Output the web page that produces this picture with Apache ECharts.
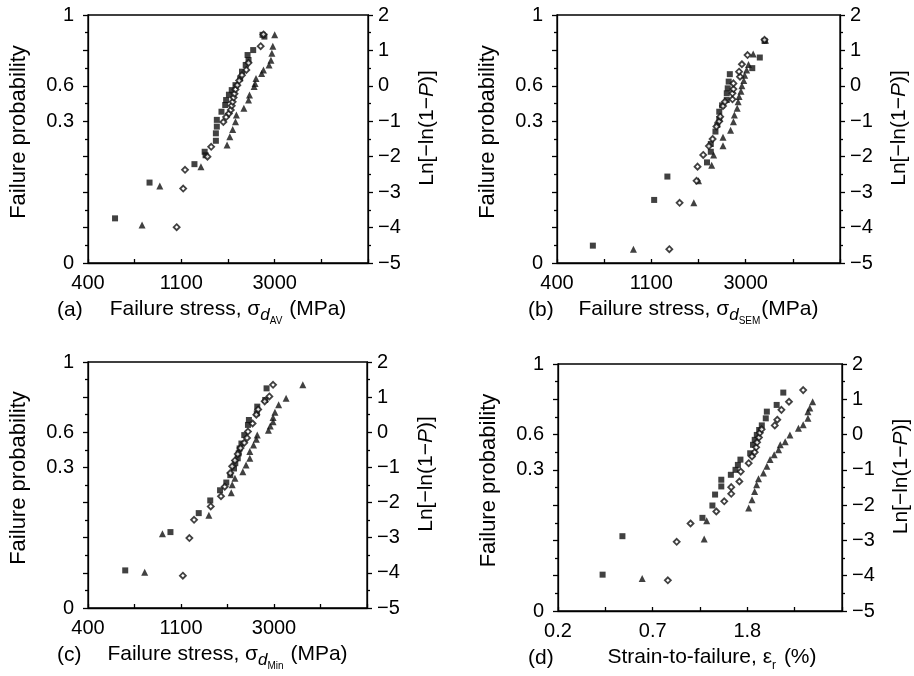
<!DOCTYPE html>
<html lang="en">
<head>
    <meta charset="utf-8">
    <title>Weibull plots</title>
    <script type="text/javascript" src="https://cdn.jsdelivr.net/npm/echarts@6/dist/echarts.min.js"></script>
    <style>
        html, body { margin: 0; padding: 0; background: #fff; }
        #main { width: 914px; height: 676px; }
    </style>
</head>
<body>
<div id="main"></div>
<script>
    // x: failure stress (MPa) or strain (%), y: Ln[-ln(1-P)]
    var aSquare = [[539,-3.74],[780,-2.73],[1262,-2.21],[1408,-1.86],[1422,-1.96],[1588,-1.55],[1588,-1.34],[1604,-1.15],[1604,-0.96],[1686,-0.73],[1755,-0.54],[1772,-0.40],[1826,-0.25],[1882,-0.12],[1959,0.02],[2060,0.21],[2100,0.40],[2186,0.59],[2253,0.73],[2230,0.87],[2368,1.01],[2618,1.44],[2670,1.39]];
    var aDiamond = [[1043,-3.99],[1119,-2.90],[1141,-2.37],[1451,-2.00],[1510,-1.72],[1720,-1.02],[1772,-0.88],[1826,-0.78],[1863,-0.68],[1882,-0.56],[1901,-0.45],[1920,-0.33],[1939,-0.22],[1959,-0.10],[1998,0.02],[2038,0.15],[2100,0.30],[2200,0.45],[2253,0.65],[2566,1.12],[2644,1.45]];
    var aTriangle = [[720,-3.93],[871,-2.83],[1353,-2.28],[1790,-1.67],[1844,-1.44],[1901,-1.23],[1959,-1.01],[1978,-0.82],[2143,-0.63],[2253,-0.40],[2276,-0.26],[2392,-0.02],[2416,0.07],[2440,0.21],[2592,0.35],[2644,0.45],[2807,0.59],[2864,0.72],[2893,0.92],[2922,1.12],[2981,1.44]];

    var bSquare = [[590,-4.51],[1130,-3.22],[1300,-2.56],[1978,-2.16],[2060,-1.86],[2060,-1.64],[2164,-1.29],[2208,-1.10],[2253,-0.94],[2253,-0.73],[2322,-0.55],[2440,-0.40],[2440,-0.21],[2465,-0.07],[2490,0.12],[2520,0.33],[3197,0.50],[3463,0.80],[3641,1.27]];
    var bDiamond = [[1327,-4.61],[1480,-3.30],[1772,-2.68],[1790,-2.28],[1901,-1.95],[2019,-1.70],[2100,-1.50],[2186,-1.15],[2253,-1.00],[2276,-0.87],[2345,-0.57],[2392,-0.45],[2592,-0.38],[2592,-0.21],[2618,-0.09],[2618,0.07],[2807,0.26],[2779,0.40],[2864,0.61],[3041,0.87],[3641,1.30]];
    var bTriangle = [[907,-4.61],[1720,-3.30],[1808,-2.68],[2080,-2.24],[2122,-1.95],[2345,-1.69],[2345,-1.45],[2540,-1.25],[2618,-1.01],[2644,-0.82],[2724,-0.63],[2752,-0.45],[2779,-0.30],[2836,-0.15],[2864,0.00],[2922,0.15],[2951,0.30],[3011,0.45],[3072,0.60],[3229,0.90],[3678,1.29]];

    var cSquare = [[602,-3.93],[979,-2.84],[1327,-2.30],[1502,-1.94],[1669,-1.65],[1785,-1.43],[1863,-1.22],[1939,-1.03],[1966,-0.88],[2019,-0.74],[2039,-0.60],[2060,-0.46],[2100,-0.32],[2165,-0.08],[2253,0.21],[2276,0.35],[2478,0.54],[2490,0.73],[2712,0.92],[2752,1.25]];
    var cDiamond = [[1119,-4.08],[1200,-3.01],[1262,-2.49],[1510,-2.11],[1686,-1.82],[1755,-1.55],[1863,-1.16],[1901,-0.97],[1959,-0.80],[2019,-0.62],[2080,-0.45],[2165,-0.30],[2230,-0.16],[2253,0.02],[2368,0.25],[2465,0.50],[2515,0.65],[2697,0.88],[2836,1.02],[2951,1.35]];
    var cTriangle = [[742,-3.98],[898,-2.89],[1480,-2.36],[1882,-1.72],[1901,-1.49],[1959,-1.31],[2132,-1.12],[2208,-0.93],[2298,-0.74],[2298,-0.55],[2392,-0.36],[2465,-0.20],[2490,-0.08],[2807,0.06],[2864,0.18],[2951,0.30],[2951,0.42],[3011,0.57],[3134,0.78],[3395,0.97],[4064,1.35]];

    var dSquare = [[0.395,-3.97],[0.487,-2.88],[1.134,-2.36],[1.26,-2.01],[1.296,-1.70],[1.384,-1.47],[1.384,-1.28],[1.531,-1.14],[1.608,-1.00],[1.649,-0.86],[1.694,-0.71],[1.878,-0.53],[1.935,-0.29],[1.97,-0.15],[2.014,-0.01],[2.065,0.13],[2.123,0.26],[2.214,0.46],[2.239,0.65],[2.484,0.84],[2.664,1.19]];
    var dDiamond = [[0.787,-4.13],[0.864,-3.04],[1.0,-2.52],[1.313,-2.18],[1.428,-1.89],[1.537,-1.68],[1.537,-1.49],[1.675,-1.33],[1.70,-1.05],[1.848,-0.81],[1.914,-0.62],[1.97,-0.50],[2.0,-0.36],[2.02,-0.22],[2.06,-0.08],[2.08,0.05],[2.12,0.15],[2.435,0.26],[2.50,0.42],[2.612,0.70],[2.829,0.93],[3.287,1.26]];
    var dTriangle = [[0.60,-4.08],[1.155,-2.96],[1.186,-2.44],[1.848,-2.08],[1.914,-1.85],[1.968,-1.61],[2.01,-1.42],[2.05,-1.25],[2.16,-1.09],[2.24,-0.90],[2.316,-0.71],[2.42,-0.57],[2.535,-0.43],[2.58,-0.29],[2.718,-0.20],[2.858,-0.01],[3.127,0.18],[3.287,0.28],[3.456,0.46],[3.456,0.65],[3.525,0.75],[3.633,0.93]];

    // tick labels (x axes are in ln units)
    var stressTickAt = [6, 7, 8];
    var stressTickText = ['400', '1100', '3000'];
    var strainTickAt = [-1.4, -0.4, 0.6];
    var strainTickText = ['0.2', '0.7', '1.8'];
    var probTickAt = [2, 0, -1, -5];
    var probTickText = ['1', '0.6', '0.3', '0'];

    var font = '"Liberation Sans", Arial, sans-serif';
    var black = '#000';

    var panels = [
        {tag: '(a)', tagX: 57, box: {left: 88, top: 15, width: 280, height: 248}, strain: false,
            xName: '{t|Failure stress, σ}{d|d}{s|AV}{t| (MPa)}', pad: 0, pts: [aSquare, aTriangle, aDiamond]},
        {tag: '(b)', tagX: 528, box: {left: 557, top: 15, width: 283, height: 248}, strain: false,
            xName: '{t|Failure stress, σ}{d|d}{s|SEM}{t|(MPa)}', pad: 0, pts: [bSquare, bTriangle, bDiamond]},
        {tag: '(c)', tagX: 57, box: {left: 88, top: 362, width: 279, height: 246}, strain: false,
            xName: '{t|Failure stress, σ}{d|d}{s|Min}{t| (MPa)}', pad: 0, pts: [cSquare, cTriangle, cDiamond]},
        {tag: '(d)', tagX: 528, box: {left: 558, top: 364, width: 284, height: 247}, strain: true,
            xName: '{t|Strain-to-failure, ε}{r|r}{t| (%)}', pad: 24, pts: [dSquare, dTriangle, dDiamond]}
    ];

    function pick(at, text) {
        return function (v) {
            for (var k = 0; k < at.length; k++) {
                if (Math.abs(at[k] - v) < 1e-6) return text[k];
            }
            return '';
        };
    }

    var line = {color: black, width: 1.3};
    var grids = [], xAxes = [], yAxes = [], series = [], graphic = [];

    panels.forEach(function (p, i) {
        grids.push({left: p.box.left, top: p.box.top, width: p.box.width, height: p.box.height,
            show: true, borderColor: black, borderWidth: 1.3, backgroundColor: 'transparent'});

        xAxes.push({
            gridIndex: i, type: 'value', position: 'bottom',
            min: p.strain ? -1.4 : 6, max: p.strain ? 1.6 : 9, interval: 0.5,
            axisLine: {onZero: false, lineStyle: line},
            axisTick: {inside: true, length: 4, lineStyle: line},
            splitLine: {show: false},
            axisLabel: {margin: 10, fontSize: 20, fontFamily: font, color: black,
                showMinLabel: true, showMaxLabel: true,
                formatter: p.strain ? pick(strainTickAt, strainTickText) : pick(stressTickAt, stressTickText)},
            name: p.xName, nameLocation: 'middle', nameGap: 36,
            nameTextStyle: {
                padding: [0, 0, 0, p.pad],
                rich: {
                    t: {fontSize: 21, fontFamily: font, color: black, lineHeight: 23, verticalAlign: 'top'},
                    d: {fontSize: 17, fontFamily: font, fontStyle: 'italic', color: black, lineHeight: 17, padding: [8, 0, 0, 0], verticalAlign: 'top'},
                    s: {fontSize: 10, fontFamily: font, color: black, lineHeight: 10, padding: [17, 1, 0, 0], verticalAlign: 'top'},
                    r: {fontSize: 12, fontFamily: font, color: black, lineHeight: 12, padding: [13, 2, 0, 0], verticalAlign: 'top'}
                }
            }
        });

        var yBase = {
            gridIndex: i, type: 'value', min: -5, max: 2, interval: 1,
            axisLine: {show: true, onZero: false, lineStyle: line},
            axisTick: {show: true, length: 5, lineStyle: line},
            minorTick: {show: true, splitNumber: 2, length: 3, lineStyle: line},
            splitLine: {show: false}, minorSplitLine: {show: false}
        };
        yAxes.push(Object.assign({}, yBase, {
            position: 'left',
            axisLabel: {margin: 14, fontSize: 20, fontFamily: font, color: black,
                showMinLabel: true, showMaxLabel: true, formatter: pick(probTickAt, probTickText)},
            name: 'Failure probability', nameLocation: 'middle', nameGap: 57,
            nameTextStyle: {fontSize: 22, fontFamily: font, color: black, lineHeight: 24, padding: [0, 0, 0, 14]}
        }));
        yAxes.push(Object.assign({}, yBase, {
            position: 'right',
            axisLabel: {margin: 10, fontSize: 20, fontFamily: font, color: black,
                showMinLabel: true, showMaxLabel: true,
                formatter: function (v) { return v < 0 ? '\u2212' + (-v) : String(v); }},
            name: '{t|Ln[\u2212ln(1\u2212}{i|P}{t|)]}', nameLocation: 'middle', nameGap: 47,
            nameTextStyle: {
                padding: [0, 0, 0, 22],
                rich: {
                    t: {fontSize: 21, fontFamily: font, color: black, lineHeight: 24},
                    i: {fontSize: 21, fontFamily: font, fontStyle: 'italic', color: black, lineHeight: 24}
                }
            }
        }));

        var marks = [
            {symbol: 'rect', size: 6, style: {color: '#111'}},
            {symbol: 'triangle', size: 7, style: {color: '#111'}},
            {symbol: 'diamond', size: 6, style: {color: '#fff', borderColor: '#111', borderWidth: 1.8}}
        ];
        p.pts.forEach(function (arr, k) {
            series.push({
                type: 'scatter', xAxisIndex: i, yAxisIndex: i * 2,
                symbol: marks[k].symbol, symbolSize: marks[k].size, itemStyle: marks[k].style,
                data: arr.map(function (d) { return [Math.log(d[0]), d[1]]; })
            });
        });

        graphic.push({type: 'text', x: p.tagX, y: p.box.top + p.box.height + 47,
            style: {text: p.tag, font: '21px ' + font, fill: black, verticalAlign: 'middle'}});
    });

    var myChart = echarts.init(document.getElementById('main'));
    myChart.setOption({
        animation: false,
        grid: grids,
        xAxis: xAxes,
        yAxis: yAxes,
        series: series,
        graphic: graphic
    });
</script>
</body>
</html>
